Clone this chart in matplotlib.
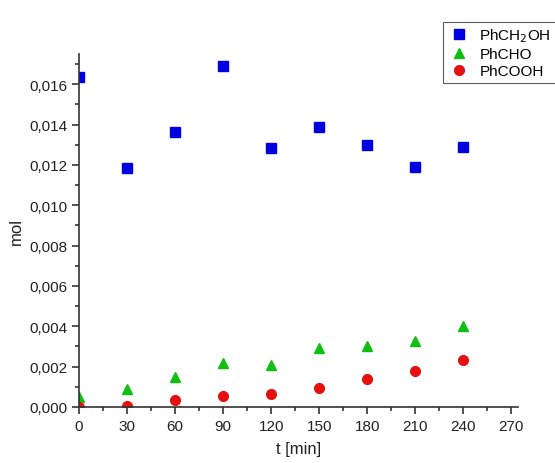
import numpy as np
import matplotlib.pyplot as plt
from matplotlib.ticker import FuncFormatter, MultipleLocator

plt.rcParams['font.family'] = ['Liberation Sans', 'DejaVu Sans']

t = [0, 30, 60, 90, 120, 150, 180, 210, 240]
ph_ch2oh = [0.01636, 0.01187, 0.01364, 0.01688, 0.01286, 0.01387, 0.01298, 0.01189, 0.01288]
ph_cho = [0.00048, 0.00089, 0.00147, 0.00216, 0.00208, 0.00292, 0.00304, 0.00325, 0.00401]
ph_cooh = [0.00000, 0.00003, 0.00035, 0.00056, 0.00066, 0.00093, 0.00139, 0.00180, 0.00233]

fig = plt.figure(figsize=(5.55, 4.64), dpi=100)
ax = fig.add_axes([0.1423, 0.1207, 0.933 - 0.1423, 0.8815 - 0.1207])

h1, = ax.plot(t, ph_ch2oh, 's', color='#0000e0', ms=6.5, label='PhCH$_2$OH')
h2, = ax.plot(t, ph_cho, '^', color='#10c010', ms=7.5, label='PhCHO')
h3, = ax.plot(t, ph_cooh, 'o', color='#e61010', ms=7, label='PhCOOH')

ax.set_xlim(0, 274)
ax.set_ylim(0, 0.0175)
ax.xaxis.set_major_locator(MultipleLocator(30))
ax.xaxis.set_minor_locator(MultipleLocator(15))
ax.yaxis.set_major_locator(MultipleLocator(0.002))
ax.yaxis.set_minor_locator(MultipleLocator(0.001))
ax.yaxis.set_major_formatter(FuncFormatter(lambda v, p: ('%.3f' % v).replace('.', ',')))

for s in ['top', 'right']:
    ax.spines[s].set_visible(False)
for s in ['left', 'bottom']:
    ax.spines[s].set_color('#333333')
    ax.spines[s].set_linewidth(1.2)
ax.tick_params(which='major', direction='out', length=5, width=1.1, labelsize=11, colors='#222222')
ax.tick_params(which='minor', direction='out', length=3, width=1.1, colors='#222222')

ax.set_xlabel('t [min]', fontsize=12, color='#222222', labelpad=6)
ax.set_ylabel('mol', fontsize=12, color='#222222')

leg = fig.legend(handles=[h1, h2, h3], loc='upper left', bbox_to_anchor=(435 / 555, 1 - 15 / 464),
                 fontsize=11, frameon=True, fancybox=False, handletextpad=0.6,
                 borderpad=0.3, labelspacing=0.2, handlelength=1.5)
leg.get_frame().set_edgecolor('#333333')
leg.get_frame().set_linewidth(0.8)

fig.savefig('out.png', dpi=100)
